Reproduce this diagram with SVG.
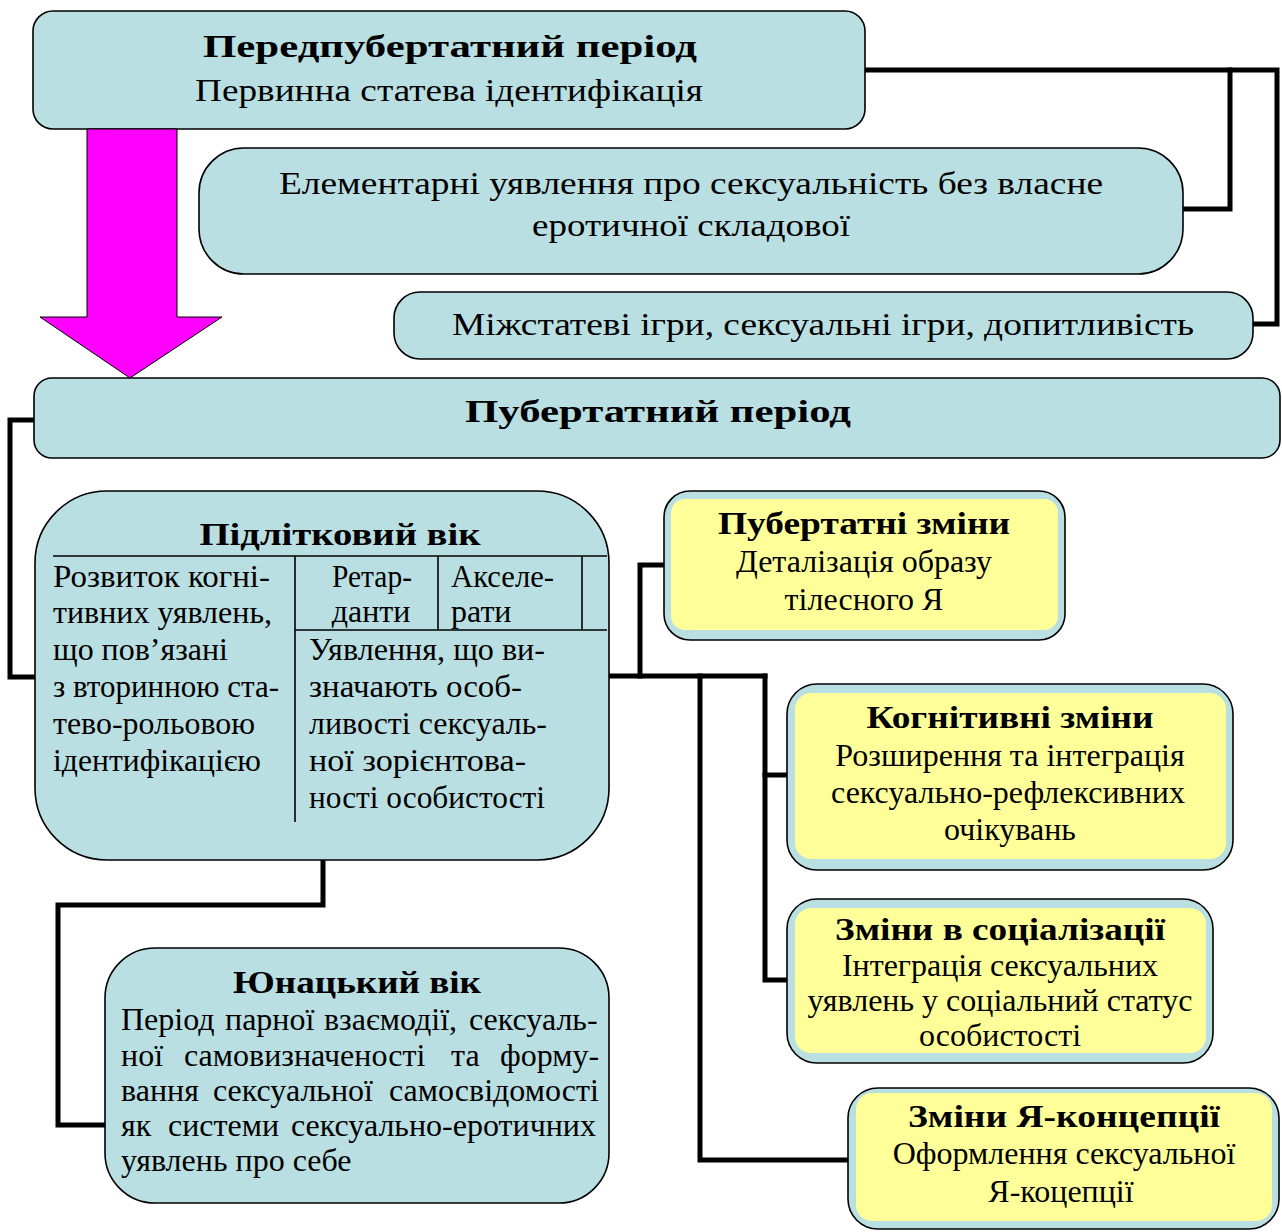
<svg xmlns="http://www.w3.org/2000/svg" width="1282" height="1232" viewBox="0 0 1282 1232">
<style>
.box{fill:#BADFE2;stroke:#000;stroke-width:1.6}
.inner{fill:#FFFF99}
.t{font-family:"Liberation Serif","Times New Roman",serif;font-size:32px;fill:#000}
.b{font-weight:bold}
.m{text-anchor:middle}
.conn{fill:none;stroke:#000;stroke-width:5;stroke-linejoin:miter;stroke-linecap:square}
.rule{stroke:#000;stroke-width:1.6;fill:none}
.arrow{fill:#FF00FF;stroke:#000;stroke-width:1}
</style>
<rect width="1282" height="1232" fill="#fff"/>

<g id="connectors">
<polyline class="conn" points="865,70 1277,70 1277,324 1253,324"/>
<polyline class="conn" points="1230,70 1230,209 1183,209"/>
<polyline class="conn" points="34,420 10,420 10,677 35,677"/>
<polyline class="conn" points="609,676 765,676"/>
<polyline class="conn" points="640,676 640,565 664,565"/>
<polyline class="conn" points="700,676 700,1160 848,1160"/>
<polyline class="conn" points="765,676 765,980 787,980"/>
<polyline class="conn" points="765,775 787,775"/>
<polyline class="conn" points="323,860 323,905 58,905 58,1125 105,1125"/>
</g>

<g id="prepubertal">
<rect class="box" x="33" y="11" width="832" height="118" rx="20"/>
<text class="t b m" x="450" y="57" font-size="36" textLength="494" lengthAdjust="spacingAndGlyphs">Передпубертатний період</text>
<text class="t m" x="449" y="101" font-size="33" textLength="508" lengthAdjust="spacingAndGlyphs">Первинна статева ідентифікація</text>
</g>

<g id="elementary">
<rect class="box" x="199" y="148" width="984" height="126" rx="45"/>
<text class="t m" x="691" y="194" font-size="34" textLength="824" lengthAdjust="spacingAndGlyphs">Елементарні уявлення про сексуальність без власне</text>
<text class="t m" x="691" y="236" font-size="34" textLength="318" lengthAdjust="spacingAndGlyphs">еротичної складової</text>
</g>

<g id="games">
<rect class="box" x="394" y="292" width="859" height="67" rx="26"/>
<text class="t m" x="823" y="335" font-size="34" textLength="742" lengthAdjust="spacingAndGlyphs">Міжстатеві ігри, сексуальні ігри, допитливість</text>
</g>

<g id="arrow">
<polygon class="arrow" points="87,129 177,129 177,317 222,317 130,378 40,317 87,317"/>
</g>

<g id="pubertal">
<rect class="box" x="34" y="378" width="1246" height="80" rx="18"/>
<text class="t b m" x="658" y="422" font-size="36" textLength="386" lengthAdjust="spacingAndGlyphs">Пубертатний період</text>
</g>

<g id="adolescence">
<rect class="box" x="35" y="491" width="574" height="369" rx="72"/>
<text class="t b m" x="340" y="545" textLength="281" lengthAdjust="spacingAndGlyphs">Підлітковий вік</text>
<line class="rule" x1="53" y1="556" x2="607" y2="556"/>
<line class="rule" x1="295" y1="556" x2="295" y2="822"/>
<line class="rule" x1="438" y1="556" x2="438" y2="630"/>
<line class="rule" x1="582" y1="556" x2="582" y2="630"/>
<line class="rule" x1="295" y1="630" x2="607" y2="630"/>
<text class="t" x="53" y="587" textLength="217" lengthAdjust="spacingAndGlyphs">Розвиток когні-</text>
<text class="t" x="53" y="623" textLength="219" lengthAdjust="spacingAndGlyphs">тивних уявлень,</text>
<text class="t" x="53" y="660" textLength="175" lengthAdjust="spacingAndGlyphs">що пов’язані</text>
<text class="t" x="53" y="697" textLength="226" lengthAdjust="spacingAndGlyphs">з вторинною ста-</text>
<text class="t" x="53" y="734" textLength="202" lengthAdjust="spacingAndGlyphs">тево-рольовою</text>
<text class="t" x="53" y="771" textLength="208" lengthAdjust="spacingAndGlyphs">ідентифікацією</text>
<text class="t m" x="372" y="587" textLength="80" lengthAdjust="spacingAndGlyphs">Ретар-</text>
<text class="t m" x="371" y="622">данти</text>
<text class="t" x="451" y="587" textLength="103" lengthAdjust="spacingAndGlyphs">Акселе-</text>
<text class="t" x="451" y="622">рати</text>
<text class="t" x="309" y="660" textLength="236" lengthAdjust="spacingAndGlyphs">Уявлення, що ви-</text>
<text class="t" x="309" y="697" textLength="213" lengthAdjust="spacingAndGlyphs">значають особ-</text>
<text class="t" x="309" y="734" textLength="238" lengthAdjust="spacingAndGlyphs">ливості сексуаль-</text>
<text class="t" x="309" y="771" textLength="217" lengthAdjust="spacingAndGlyphs">ної зорієнтова-</text>
<text class="t" x="309" y="808" textLength="236" lengthAdjust="spacingAndGlyphs">ності особистості</text>
</g>

<g id="youth">
<rect class="box" x="105" y="948" width="504" height="255" rx="50"/>
<text class="t b m" x="357" y="993" textLength="248" lengthAdjust="spacingAndGlyphs">Юнацький вік</text>
<text class="t" y="1030"><tspan x="121">Період</tspan><tspan x="225">парної</tspan><tspan x="324">взаємодії,</tspan><tspan x="469">сексуаль-</tspan></text>
<text class="t" y="1066"><tspan x="121">ної</tspan><tspan x="184">самовизначеності</tspan><tspan x="451">та</tspan><tspan x="500">форму-</tspan></text>
<text class="t" y="1101"><tspan x="121">вання</tspan><tspan x="213">сексуальної</tspan><tspan x="389">самосвідомості</tspan></text>
<text class="t" y="1136"><tspan x="121">як</tspan><tspan x="168">системи</tspan><tspan x="291">сексуально-еротичних</tspan></text>
<text class="t" x="121" y="1171">уявлень про себе</text>
</g>

<g id="pubertal-changes">
<rect class="box" x="664" y="491" width="401" height="149" rx="26"/>
<rect class="inner" x="671" y="499" width="387" height="131" rx="14"/>
<text class="t b m" x="864" y="534" textLength="292" lengthAdjust="spacingAndGlyphs">Пубертатні зміни</text>
<text class="t m" x="864" y="572">Деталізація образу</text>
<text class="t m" x="864" y="610">тілесного Я</text>
</g>

<g id="cognitive-changes">
<rect class="box" x="787" y="684" width="446" height="186" rx="30"/>
<rect class="inner" x="795" y="693" width="431" height="166" rx="16"/>
<text class="t b m" x="1010" y="728" textLength="287" lengthAdjust="spacingAndGlyphs">Когнітивні зміни</text>
<text class="t m" x="1010" y="766">Розширення та інтеграція</text>
<text class="t m" x="1008" y="803">сексуально-рефлексивних</text>
<text class="t m" x="1010" y="840">очікувань</text>
</g>

<g id="social-changes">
<rect class="box" x="787" y="899" width="426" height="164" rx="30"/>
<rect class="inner" x="795" y="908" width="411" height="145" rx="16"/>
<text class="t b m" x="1000" y="940" textLength="330" lengthAdjust="spacingAndGlyphs">Зміни в соціалізації</text>
<text class="t m" x="1000" y="976">Інтеграція сексуальних</text>
<text class="t m" x="1000" y="1011">уявлень у соціальний статус</text>
<text class="t m" x="1000" y="1046">особистості</text>
</g>

<g id="self-concept-changes">
<rect class="box" x="848" y="1088" width="431" height="141" rx="30"/>
<rect class="inner" x="856" y="1093" width="416" height="128" rx="16"/>
<text class="t b m" x="1064" y="1127" textLength="312" lengthAdjust="spacingAndGlyphs">Зміни Я-концепції</text>
<text class="t m" x="1064" y="1164">Оформлення сексуальної</text>
<text class="t m" x="1061" y="1202">Я-коцепції</text>
</g>
</svg>
